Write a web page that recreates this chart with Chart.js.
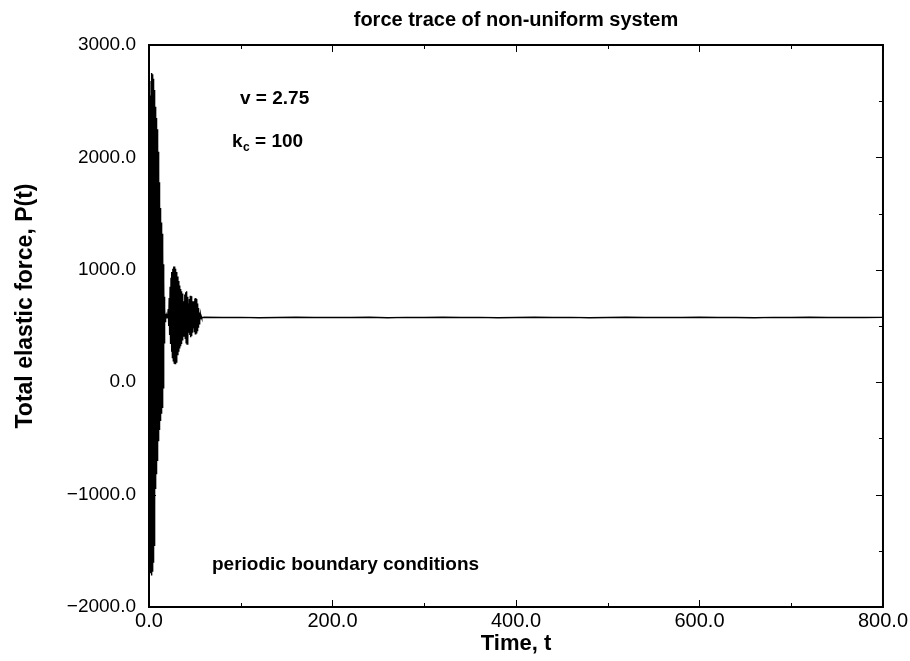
<!DOCTYPE html>
<html>
<head>
<meta charset="utf-8">
<script src="https://cdn.jsdelivr.net/npm/chart.js@4.4.1/dist/chart.umd.min.js"></script>
<style>
  html, body { margin: 0; padding: 0; background: #fff; }
  #wrap { width: 910px; height: 661px; position: relative; }
</style>
</head>
<body>
<div id="wrap"><canvas id="c" width="910" height="661"></canvas></div>
<script>
// ---- data ----
const chartTitle = "force trace of non-uniform system";
const xAxisTitle = "Time, t";
const yAxisTitle = "Total elastic force, P(t)";
const xTickValues = [0, 200, 400, 600, 800];
const yTickValues = [-2000, -1000, 0, 1000, 2000, 3000];

// first (large) transient burst
const burst1Time = [0,0.25,0.5,0.75,1,1.25,1.5,1.75,2,2.25,2.5,2.75,3,3.25,3.5,3.75,4,4.25,4.5,4.75,5,5.25,5.5,5.75,6,6.25,6.5,6.75,7,7.25,7.5,7.75,8,8.25,8.5,8.75,9,9.25,9.5,9.75,10,10.25,10.5,10.75,11,11.25,11.5,11.75,12,12.25,12.5,12.75,13,13.25,13.5,13.75,14,14.25,14.5,14.75,15,15.25,15.5,15.75,16,16.25,16.5,16.75,17,17.25,17.5,17.75,18,18.5,19,19.5,20,20.5];
const burst1Force = [0,1500,-1200,2100,-1550,2400,-1700,2550,-1300,2680,-1720,2720,-1500,2750,-1680,2740,-1200,2730,-1600,2700,-1050,2650,-1450,2600,-950,2520,-1150,2450,-900,2400,-950,2350,-820,2300,-780,2250,-700,2200,-620,2150,-520,2050,-470,1900,-420,1780,-380,1650,-340,1550,-320,1480,-300,1420,-280,1370,-260,1320,-230,1280,-180,1200,-50,1050,150,900,350,760,480,660,540,610,570,590,572,588,575,600];

// second (smaller) burst
const burst2Time = [21,21.5,22,22.5,23,23.5,24,24.5,25,25.5,26,26.5,27,27.5,28,28.5,29,29.5,30,30.5,31,31.5,32,32.5,33,33.5,34,34.5,35,35.5,36,36.5,37,37.5,38,38.5,39,39.5,40,40.5,41,41.5,42,42.5,43,43.5,44,44.5,45,45.5,46,46.5,47,47.5,48,48.5,49,49.5,50,50.5,51,51.5,52,52.5,53,53.5,54,54.5,55,55.5,56,56.5,57,57.5];
const burst2Force = [650,500,750,420,850,340,930,270,980,220,1010,190,1030,170,1030,165,1010,180,980,210,940,240,900,270,860,300,830,320,810,340,790,370,760,410,720,440,780,390,800,350,810,340,760,380,700,440,740,420,770,400,765,410,720,440,680,480,720,450,745,430,750,440,740,460,700,490,660,520,620,545,600,560,585,572];

// steady state
const steadyTime = [60,80,100,120,140,160,180,200,220,240,260,280,300,320,340,360,380,400,420,440,460,480,500,520,540,560,580,600,620,640,660,680,700,720,740,760,780,800];
const steadyForce = [578,575,577,574,576,578,575,577,575,578,574,577,576,578,575,577,574,576,578,575,577,574,576,578,575,577,575,578,575,576,574,577,576,578,575,577,575,577];

const annotV = "v = 2.75";
const annotK = "k";
const annotKSub = "c";
const annotKRest = " = 100";
const annotBC = "periodic boundary conditions";

// ---- build the dataset ----
const allTime = burst1Time.concat(burst2Time, steadyTime);
const allForce = burst1Force.concat(burst2Force, steadyForce);
const points = allTime.map((t, i) => ({ x: t, y: allForce[i] }));

const FONT = '"Liberation Sans", Arial, Helvetica, sans-serif';

function fmt(v) {
  const s = Math.abs(v).toFixed(1);
  return v < 0 ? '\u2212' + s : s;
}

const framePlugin = {
  id: 'framePlugin',
  afterDraw(chart) {
    const { ctx, chartArea: a, scales: { x, y } } = chart;
    ctx.save();
    ctx.strokeStyle = '#000';
    ctx.lineWidth = 2;
    ctx.strokeRect(a.left, a.top, a.right - a.left, a.bottom - a.top);

    ctx.lineWidth = 1;
    ctx.beginPath();
    for (let v = 0; v <= 800; v += 100) {
      const px = Math.round(x.getPixelForValue(v)) + 0.5;
      const len = (v % 200 === 0) ? 7 : 4;
      ctx.moveTo(px, a.bottom); ctx.lineTo(px, a.bottom - len);
      ctx.moveTo(px, a.top); ctx.lineTo(px, a.top + len);
    }
    for (let v = -2000; v <= 3000; v += 500) {
      const py = Math.round(y.getPixelForValue(v)) + 0.5;
      const len = (v % 1000 === 0) ? 7 : 4;
      ctx.moveTo(a.left, py); ctx.lineTo(a.left + len, py);
      ctx.moveTo(a.right, py); ctx.lineTo(a.right - len, py);
    }
    ctx.stroke();

    ctx.fillStyle = '#000';
    ctx.textBaseline = 'alphabetic';
    // chart title
    ctx.font = 'bold 20px ' + FONT;
    ctx.textAlign = 'center';
    ctx.fillText(chartTitle, (a.left + a.right) / 2, 26);

    // x axis title
    ctx.font = 'bold 22px ' + FONT;
    ctx.fillText(xAxisTitle, (a.left + a.right) / 2, 650);

    // y axis title
    ctx.save();
    ctx.translate(32, 306);
    ctx.rotate(-Math.PI / 2);
    ctx.textAlign = 'center';
    ctx.font = 'bold 23px ' + FONT;
    ctx.fillText(yAxisTitle, 0, 0);
    ctx.restore();

    // annotations
    ctx.textAlign = 'left';
    ctx.font = 'bold 19px ' + FONT;
    ctx.fillText(annotV, 240, 104);
    ctx.fillText(annotK, 232, 147);
    const kw = ctx.measureText(annotK).width;
    ctx.font = 'bold 12px ' + FONT;
    ctx.fillText(annotKSub, 232 + kw + 0.5, 151);
    const cw = ctx.measureText(annotKSub).width;
    ctx.font = 'bold 19px ' + FONT;
    ctx.fillText(annotKRest, 232 + kw + cw + 0.5, 147);
    ctx.fillText(annotBC, 212, 570);
    ctx.restore();
  }
};

new Chart(document.getElementById('c'), {
  type: 'line',
  data: {
    datasets: [{
      data: points,
      borderColor: '#000',
      borderWidth: 1.4,
      pointRadius: 0,
      tension: 0,
      fill: false
    }]
  },
  options: {
    responsive: false,
    animation: false,
    layout: { padding: { left: 0, right: 26, top: 45, bottom: 0 } },
    plugins: { legend: { display: false }, title: { display: false }, tooltip: { enabled: false } },
    scales: {
      x: {
        type: 'linear', min: 0, max: 800,
        afterBuildTicks(s) { s.ticks = xTickValues.map(v => ({ value: v })); },
        afterFit(s) { s.height = 54; },
        grid: { display: false, drawTicks: false },
        border: { display: false },
        ticks: {
          callback: v => fmt(v),
          color: '#000', padding: 2, maxRotation: 0, autoSkip: false,
          font: { family: FONT, size: 20 }
        }
      },
      y: {
        type: 'linear', min: -2000, max: 3000,
        afterBuildTicks(s) { s.ticks = yTickValues.map(v => ({ value: v })); },
        afterFit(s) { s.width = 149; },
        grid: { display: false, drawTicks: false },
        border: { display: false },
        ticks: {
          callback: v => fmt(v),
          color: '#000', padding: 13, autoSkip: false,
          font: { family: FONT, size: 19 }
        }
      }
    }
  },
  plugins: [framePlugin]
});
</script>
</body>
</html>
